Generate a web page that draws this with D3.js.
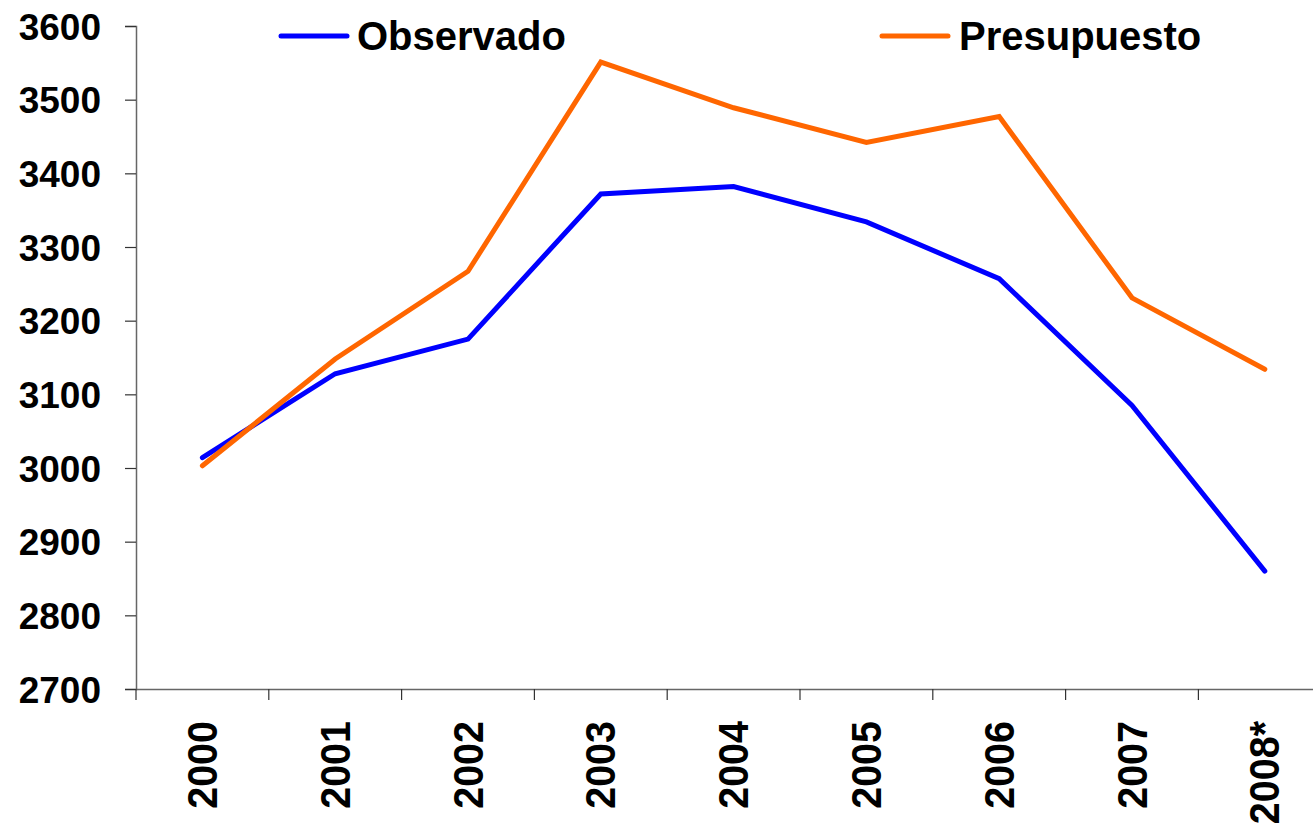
<!DOCTYPE html>
<html>
<head>
<meta charset="utf-8">
<script src="https://cdn.jsdelivr.net/npm/d3@7/dist/d3.min.js"></script>
<style>
  html, body { margin: 0; padding: 0; background: #fff; }
  svg { display: block; }
  text { font-family: "Liberation Sans", Arial, sans-serif; font-weight: bold; fill: #000; }
</style>
</head>
<body>
<svg id="chart" width="1313" height="824"></svg>
<script>
const years = ["2000", "2001", "2002", "2003", "2004", "2005", "2006", "2007", "2008*"];
const observado = [3014, 3128, 3175, 3372, 3382, 3334, 3257, 3085, 2860];
const presupuesto = [3003, 3148, 3267, 3551, 3489, 3442, 3477, 3231, 3134];
const yTicks = [2700, 2800, 2900, 3000, 3100, 3200, 3300, 3400, 3500, 3600];
const seriesNames = ["Observado", "Presupuesto"];
const seriesColors = ["#0000FF", "#FF6600"];

const svg = d3.select("#chart");
const plotLeft = 136, plotTop = 26, plotBottom = 689;
const bandW = 132.8;

const x = d3.scaleBand().domain(years).range([plotLeft, plotLeft + bandW * years.length]).padding(0);
const y = d3.scaleLinear().domain([2700, 3600]).range([plotBottom, plotTop]);

// Y axis
const yAxis = svg.append("g").attr("transform", `translate(${plotLeft},0)`)
  .call(d3.axisLeft(y).tickValues(yTicks).tickSize(11).tickPadding(24).tickFormat(d3.format("d")));
yAxis.select(".domain").attr("stroke", "#666").attr("stroke-width", 1.5);
yAxis.selectAll(".tick line").attr("stroke", "#333").attr("stroke-width", 1.2);
yAxis.selectAll(".tick text").style("font-size", "37px").attr("dy", "0.36em");

// X axis
const xAxis = svg.append("g").attr("transform", `translate(0,${plotBottom})`)
  .call(d3.axisBottom(x).tickSize(0).tickFormat(""));
xAxis.select(".domain").attr("d", `M${plotLeft},0.5H1313`).attr("stroke", "#666").attr("stroke-width", 1.5);
const boundaries = years.map(d => x(d));
xAxis.selectAll(".bound").data(boundaries).enter().append("line")
  .attr("x1", d => d).attr("x2", d => d).attr("y1", 0).attr("y2", 11)
  .attr("stroke", "#333").attr("stroke-width", 1.2);
xAxis.selectAll(".xl").data(years).enter().append("text")
  .attr("transform", d => `translate(${x(d) + x.bandwidth() / 2 - 0.5},32) rotate(-90) scale(0.94,1)`)
  .attr("text-anchor", "end")
  .attr("dy", "0.36em")
  .style("font-size", "42px")
  .text(d => d);

// Lines
const line = d3.line().x((d, i) => x(years[i]) + x.bandwidth() / 2).y(d => y(d));
[observado, presupuesto].forEach((s, k) => {
  svg.append("path").datum(s)
    .attr("fill", "none")
    .attr("stroke", seriesColors[k])
    .attr("stroke-width", 5)
    .attr("stroke-linejoin", "miter")
    .attr("stroke-linecap", "round")
    .attr("d", line);
});

// Legend
const legendPos = [{lx: 281, tx: 357}, {lx: 882, tx: 959}];
seriesNames.forEach((n, k) => {
  const g = svg.append("g");
  g.append("line").attr("x1", legendPos[k].lx).attr("x2", legendPos[k].lx + 66)
    .attr("y1", 36).attr("y2", 36)
    .attr("stroke", seriesColors[k]).attr("stroke-width", 5).attr("stroke-linecap", "round");
  g.append("text").attr("x", legendPos[k].tx).attr("y", 50).style("font-size", "40px").text(n);
});
</script>
</body>
</html>
